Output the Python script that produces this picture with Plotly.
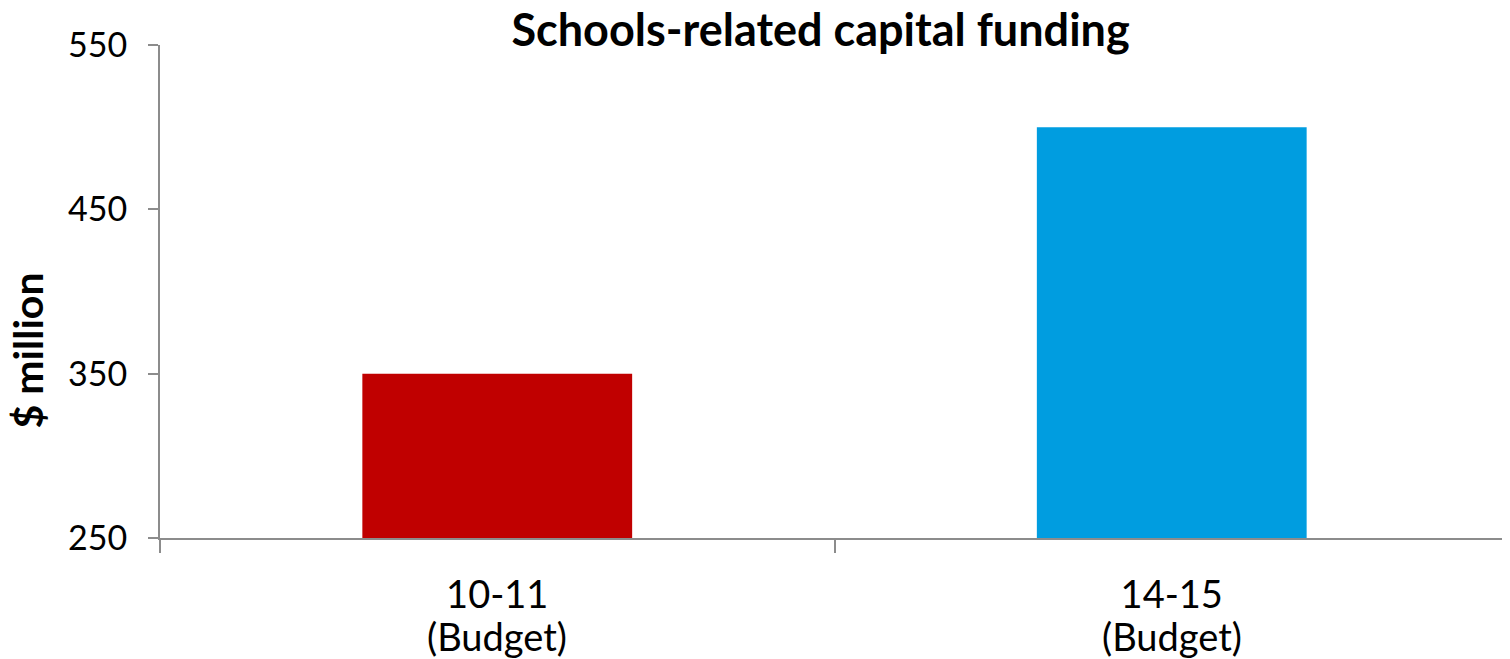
import plotly.graph_objects as go

categories = ["10-11", "14-15"]
sublabels = ["(Budget)", "(Budget)"]
values = [350, 500]
colors = ["#C00000", "#009DE0"]
y_ticks = [250, 350, 450, 550]

FONT = "Lato"
AXIS = "#8C8C8C"

fig = go.Figure(go.Bar(x=categories, y=values, marker=dict(color=colors, line=dict(width=0)), width=0.4))

annotations = [dict(text="<b>$ million</b>", textangle=-90, xref="paper", yref="paper",
                    x=-0.098, y=0.38, xanchor="center", yanchor="middle", showarrow=False,
                    font=dict(family=FONT, size=41, color="#000"))]
for c, s in zip(categories, sublabels):
    annotations.append(dict(text=s, xref="x", yref="paper", x=c, y=-0.199, xanchor="center",
                            yanchor="middle", showarrow=False,
                            font=dict(family=FONT, size=38, color="#000")))

fig.update_layout(
    width=1502, height=651,
    margin=dict(l=152, r=1, t=37, b=121),
    paper_bgcolor="white", plot_bgcolor="white",
    font=dict(family=FONT, color="#000000", size=34),
    showlegend=False,
    title=dict(text="<b>Schools-related capital funding</b>", x=0.541, xanchor="center",
               y=0.966, yanchor="middle", font=dict(family=FONT, size=45, color="#000")),
    annotations=annotations,
)
fig.update_xaxes(type="category", showline=True, linecolor=AXIS, linewidth=2, ticks="outside",
                 tickson="boundaries", ticklen=13, tickcolor=AXIS, tickwidth=2, showgrid=False,
                 ticklabelstandoff=22, tickfont=dict(family=FONT, size=38, color="#000"))
fig.update_yaxes(range=[250, 550], tickvals=y_ticks, showline=True, linecolor=AXIS, linewidth=2,
                 ticks="outside", ticklen=10, tickcolor=AXIS, tickwidth=2, showgrid=False,
                 zeroline=False, ticklabelstandoff=14,
                 tickfont=dict(family=FONT, size=34, color="#000"))

fig.write_html("out.html")
